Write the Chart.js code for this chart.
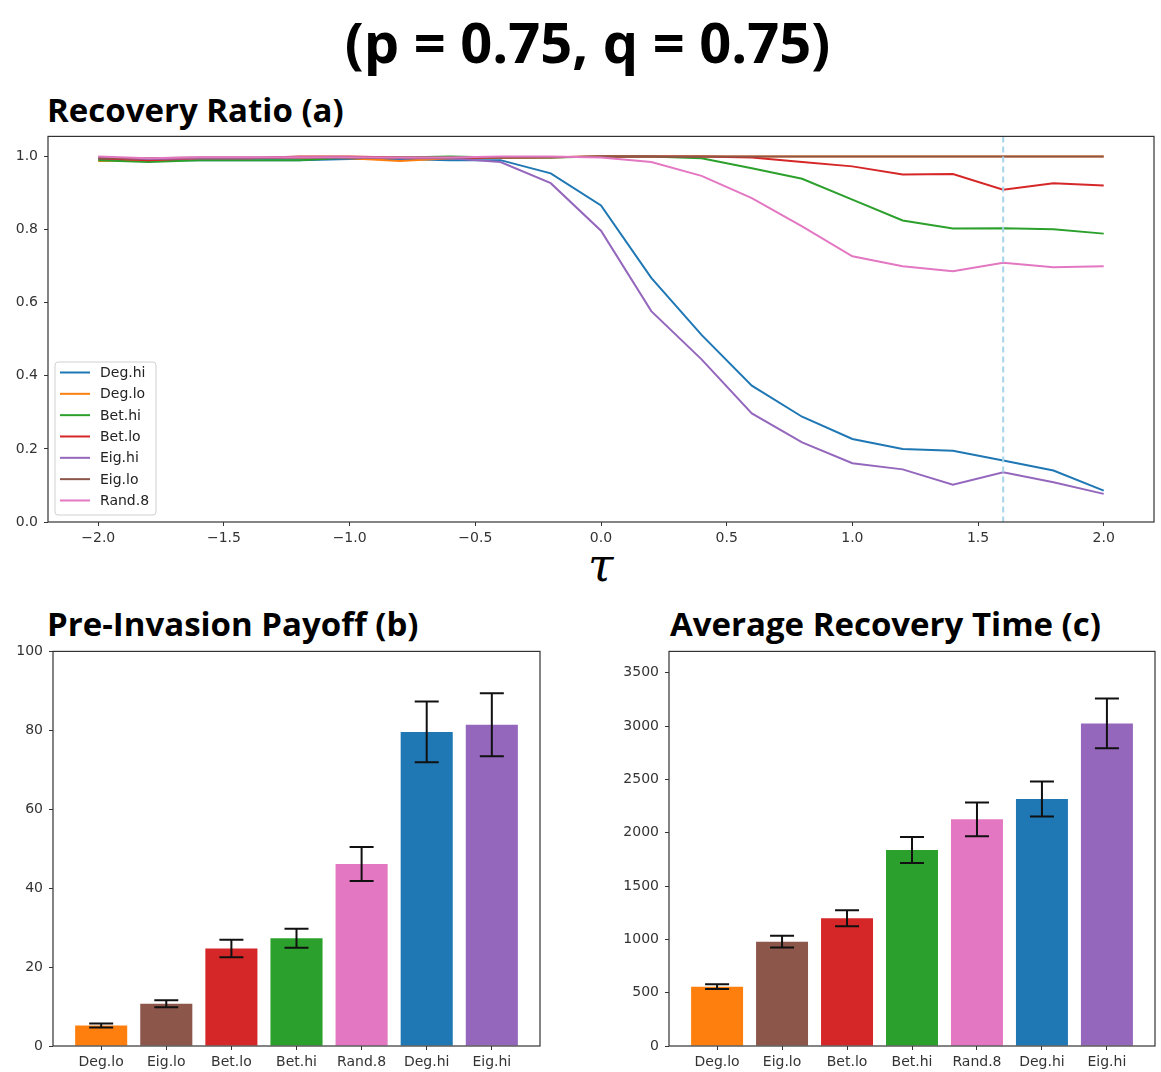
<!DOCTYPE html>
<html>
<head>
<meta charset="utf-8">
<script src="https://cdn.jsdelivr.net/npm/chart.js@4/dist/chart.umd.min.js"></script>
<style>
  body { margin: 0; background: #fff; }
  #page { position: relative; width: 1161px; height: 1072px; overflow: hidden; }
  .ttl { position: absolute; font-family: 'Open Sans', sans-serif; font-weight: 700; color: #000; line-height: 1; white-space: nowrap; }
  canvas { position: absolute; }
</style>
</head>
<body>
<div id="page">
  <div class="ttl" style="left:0; width:1175px; text-align:center; top:13px; font-size:56px;">(p = 0.75, q = 0.75)</div>
  <div class="ttl" style="left:47px; top:93px; font-size:33px;">Recovery Ratio (a)</div>
  <div class="ttl" style="left:47px; top:607px; font-size:33px;">Pre-Invasion Payoff (b)</div>
  <div class="ttl" style="left:670px; top:607px; font-size:33px;">Average Recovery Time (c)</div>
  <div style="position:absolute; left:588px; top:542px; font-family:'DejaVu Serif', serif; font-style:italic; font-size:46px; line-height:1;">τ</div>

  <canvas id="ratioChart" width="1161" height="424" style="left:0; top:122px;"></canvas>
  <canvas id="payoffChart" width="560" height="435" style="left:0; top:637px;"></canvas>
  <canvas id="timeChart" width="561" height="435" style="left:600px; top:637px;"></canvas>
</div>

<script>
// ---- data ----
const tau = [-2.0, -1.8, -1.6, -1.4, -1.2, -1.0, -0.8, -0.6, -0.4, -0.2, 0.0, 0.2, 0.4, 0.6, 0.8, 1.0, 1.2, 1.4, 1.6, 1.8, 2.0];

const degHi = [0.993, 0.99, 0.99, 0.99, 0.99, 0.993, 0.993, 0.99, 0.99, 0.954, 0.866, 0.668, 0.512, 0.373, 0.288, 0.227, 0.200, 0.195, 0.168, 0.141, 0.086];
const degLo = [0.988, 0.99, 0.995, 0.995, 0.997, 0.995, 0.988, 0.995, 0.997, 0.998, 1.0, 1.0, 1.0, 1.0, 1.0, 1.0, 1.0, 1.0, 1.0, 1.0, 1.0];
const betHi = [0.99, 0.985, 0.99, 0.99, 0.99, 0.997, 0.997, 1.0, 0.997, 0.997, 1.0, 1.0, 0.995, 0.968, 0.939, 0.882, 0.825, 0.803, 0.804, 0.801, 0.789];
const betLo = [0.995, 0.99, 0.995, 0.995, 1.0, 1.0, 0.997, 0.995, 0.997, 0.998, 1.0, 1.0, 1.0, 0.997, 0.985, 0.973, 0.951, 0.952, 0.909, 0.927, 0.921];
const eigHi = [0.997, 0.993, 0.995, 0.995, 0.997, 0.997, 0.995, 0.995, 0.985, 0.927, 0.797, 0.577, 0.445, 0.297, 0.218, 0.161, 0.144, 0.102, 0.136, 0.109, 0.077];
const eigLo = [0.995, 0.995, 0.997, 0.997, 0.997, 0.997, 0.997, 0.997, 0.997, 0.998, 1.0, 1.0, 1.0, 1.0, 1.0, 1.0, 1.0, 1.0, 1.0, 1.0, 1.0];
const rand8 = [1.0, 0.995, 0.998, 0.998, 0.998, 0.998, 0.997, 0.997, 1.0, 1.0, 0.997, 0.985, 0.947, 0.886, 0.809, 0.727, 0.700, 0.686, 0.709, 0.697, 0.700];

const lineNames = ['Deg.hi', 'Deg.lo', 'Bet.hi', 'Bet.lo', 'Eig.hi', 'Eig.lo', 'Rand.8'];
const lineSeries = [degHi, degLo, betHi, betLo, eigHi, eigLo, rand8];
const tauTicks = [-2.0, -1.5, -1.0, -0.5, 0.0, 0.5, 1.0, 1.5, 2.0];
const ratioTicks = [0.0, 0.2, 0.4, 0.6, 0.8, 1.0];
const markedTau = 1.6; // dashed vertical marker

const barLabels = ['Deg.lo', 'Eig.lo', 'Bet.lo', 'Bet.hi', 'Rand.8', 'Deg.hi', 'Eig.hi'];
const payoff = [5.2, 10.7, 24.7, 27.3, 46.1, 79.6, 81.4];
const payoffErr = [0.5, 0.9, 2.2, 2.4, 4.3, 7.7, 8.0];
const payoffTicks = [0, 20, 40, 60, 80, 100];
const recTime = [556, 978, 1197, 1838, 2125, 2316, 3025];
const recTimeErr = [22, 55, 75, 122, 158, 164, 233];
const recTimeTicks = [0, 500, 1000, 1500, 2000, 2500, 3000, 3500];

// matplotlib tab10 colours
const colors = {
    'Deg.hi': '#1f77b4', 'Deg.lo': '#ff7f0e', 'Bet.hi': '#2ca02c', 'Bet.lo': '#d62728',
    'Eig.hi': '#9467bd', 'Eig.lo': '#8c564b', 'Rand.8': '#e377c2'
};

const axisColor = '#333';
const tickFont = { family: 'DejaVu Sans', size: 14 };

// full box around the plot area (matplotlib spines)
const frameBox = {
    id: 'frameBox',
    afterDraw(chart) {
        const a = chart.chartArea, ctx = chart.ctx;
        ctx.save();
        ctx.strokeStyle = axisColor;
        ctx.lineWidth = 1.2;
        ctx.strokeRect(a.left, a.top, a.right - a.left, a.bottom - a.top);
        ctx.restore();
    }
};

// dashed vertical line at markedTau
const markerLine = {
    id: 'markerLine',
    afterDatasetsDraw(chart) {
        const x = chart.scales.x.getPixelForValue(markedTau), a = chart.chartArea, ctx = chart.ctx;
        ctx.save();
        ctx.strokeStyle = '#a6d4e8';
        ctx.lineWidth = 2;
        ctx.setLineDash([6, 4]);
        ctx.beginPath();
        ctx.moveTo(x, a.top);
        ctx.lineTo(x, a.bottom);
        ctx.stroke();
        ctx.restore();
    }
};

// legend box inside the lower left corner
const innerLegend = {
    id: 'innerLegend',
    afterDraw(chart) {
        const a = chart.chartArea, ctx = chart.ctx;
        const w = 101, h = 153, rowH = 21.33;
        const bx = a.left + 7, by = a.bottom - 7 - h;
        ctx.save();
        ctx.fillStyle = 'rgba(255,255,255,0.85)';
        ctx.strokeStyle = '#d0d0d0';
        ctx.lineWidth = 1;
        ctx.beginPath();
        ctx.roundRect(bx, by, w, h, 3);
        ctx.fill();
        ctx.stroke();
        ctx.font = '14px "DejaVu Sans"';
        ctx.textBaseline = 'middle';
        lineNames.forEach((name, i) => {
            const y = by + 10.5 + i * rowH;
            ctx.strokeStyle = colors[name];
            ctx.lineWidth = 2;
            ctx.beginPath();
            ctx.moveTo(bx + 5, y);
            ctx.lineTo(bx + 35, y);
            ctx.stroke();
            ctx.fillStyle = '#222';
            ctx.fillText(name, bx + 45, y + 1);
        });
        ctx.restore();
    }
};

// black error bars with caps
function errorBars(errors) {
    return {
        id: 'errorBars',
        afterDatasetsDraw(chart) {
            const xs = chart.scales.x, ys = chart.scales.y, ctx = chart.ctx;
            const values = chart.data.datasets[0].data;
            ctx.save();
            ctx.strokeStyle = '#111';
            ctx.lineWidth = 2;
            values.forEach((p, i) => {
                const x = xs.getPixelForValue(p.x);
                const yTop = ys.getPixelForValue(p.y + errors[i]);
                const yBot = ys.getPixelForValue(p.y - errors[i]);
                ctx.beginPath();
                ctx.moveTo(x, yTop); ctx.lineTo(x, yBot);
                ctx.moveTo(x - 12, yTop); ctx.lineTo(x + 12, yTop);
                ctx.moveTo(x - 12, yBot); ctx.lineTo(x + 12, yBot);
                ctx.stroke();
            });
            ctx.restore();
        }
    };
}

const fmtMinus = v => (v < 0 ? '\u2212' : '') + Math.abs(v).toFixed(1);

Chart.defaults.animation = false;
Chart.defaults.devicePixelRatio = 1;

// Recovery ratio line chart
new Chart(document.getElementById('ratioChart'), {
    type: 'line',
    data: {
        datasets: lineNames.map((name, i) => ({
            label: name,
            data: tau.map((t, j) => ({ x: t, y: lineSeries[i][j] })),
            borderColor: colors[name],
            backgroundColor: colors[name],
            borderWidth: 2,
            pointRadius: 0,
            tension: 0,
            order: lineNames.length - i
        }))
    },
    options: {
        responsive: false,
        layout: { padding: { top: 10, right: 7, left: 0, bottom: 0 } },
        plugins: { legend: { display: false }, tooltip: { enabled: false } },
        scales: {
            x: {
                type: 'linear', min: -2.2, max: 2.2,
                afterBuildTicks: s => { s.ticks = tauTicks.map(v => ({ value: v })); },
                afterFit: s => { s.height = 24; },
                grid: { drawOnChartArea: false, drawTicks: true, tickLength: 4, color: axisColor },
                border: { display: false },
                ticks: { font: tickFont, color: '#333', padding: 4, maxRotation: 0, callback: v => fmtMinus(v) }
            },
            y: {
                min: 0, max: 1.055,
                afterBuildTicks: s => { s.ticks = ratioTicks.map(v => ({ value: v })); },
                afterFit: s => { s.width = 48; },
                grid: { drawOnChartArea: false, drawTicks: true, tickLength: 4, color: axisColor },
                border: { display: false },
                ticks: { font: tickFont, color: '#333', padding: 6, callback: v => v.toFixed(1) }
            }
        }
    },
    plugins: [markerLine, innerLegend, frameBox]
});

// shared builder for the two bar charts
function barChart(id, values, errors, yMax, yTicks, yWidth, rightPad) {
    return new Chart(document.getElementById(id), {
        type: 'bar',
        data: {
            datasets: [{
                data: values.map((v, i) => ({ x: i, y: v })),
                backgroundColor: barLabels.map(l => colors[l]),
                borderWidth: 0,
                categoryPercentage: 1.0,
                barPercentage: 0.8
            }]
        },
        options: {
            responsive: false,
            layout: { padding: { top: 10, right: rightPad, left: 0, bottom: 0 } },
            plugins: { legend: { display: false }, tooltip: { enabled: false } },
            scales: {
                x: {
                    type: 'linear', min: -0.74, max: 6.74, offset: false,
                    afterBuildTicks: s => { s.ticks = barLabels.map((l, i) => ({ value: i })); },
                    afterFit: s => { s.height = 26; },
                    grid: { drawOnChartArea: false, drawTicks: true, tickLength: 4, color: axisColor, offset: false },
                    border: { display: false },
                    ticks: { font: tickFont, color: '#333', padding: 4, maxRotation: 0, callback: v => barLabels[v] }
                },
                y: {
                    min: 0, max: yMax,
                    afterBuildTicks: s => { s.ticks = yTicks.map(v => ({ value: v })); },
                    afterFit: s => { s.width = yWidth; },
                    grid: { drawOnChartArea: false, drawTicks: true, tickLength: 4, color: axisColor },
                    border: { display: false },
                    ticks: { font: tickFont, color: '#333', padding: 6, callback: v => String(v) }
                }
            }
        },
        plugins: [errorBars(errors), frameBox]
    });
}

barChart('payoffChart', payoff, payoffErr, 100, payoffTicks, 53, 20);
barChart('timeChart', recTime, recTimeErr, 3700, recTimeTicks, 69, 6);
</script>
</body>
</html>
